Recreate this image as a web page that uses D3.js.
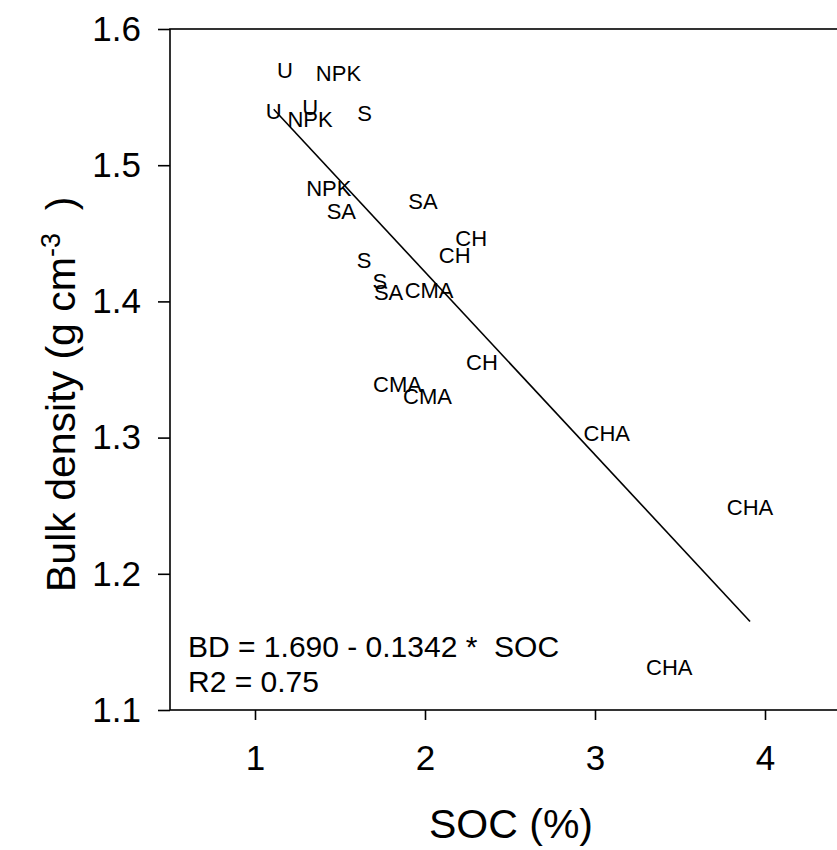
<!DOCTYPE html>
<html>
<head>
<meta charset="utf-8">
<script src="https://cdn.jsdelivr.net/npm/d3@7/dist/d3.min.js"></script>
<style>
  html, body { margin: 0; padding: 0; background: #fff; }
  svg { display: block; font-family: "Liberation Sans", Arial, Helvetica, sans-serif; }
</style>
</head>
<body>
<svg id="chart" width="837" height="850"></svg>
<script>
// Treatment label at each sample
const treatments = ["U", "NPK", "U", "U", "NPK", "S", "NPK", "SA", "SA", "CH", "CH",
                    "S", "S", "SA", "CMA", "CH", "CMA", "CMA", "CHA", "CHA", "CHA"];
// Soil organic carbon (%)
const soc = [1.176, 1.491, 1.11, 1.324, 1.324, 1.644, 1.434, 1.508, 1.988, 2.272, 2.175,
             1.641, 1.735, 1.786, 2.024, 2.335, 1.838, 2.015, 3.069, 3.912, 3.437];
// Bulk density (g cm-3)
const bd = [1.570, 1.568, 1.5394, 1.543, 1.534, 1.538, 1.483, 1.466, 1.474, 1.4466, 1.434,
            1.430, 1.4146, 1.407, 1.408, 1.3557, 1.339, 1.3305, 1.3032, 1.2493, 1.1318];
// Linear fit BD = a + b * SOC
const fitIntercept = 1.690;
const fitSlope = -0.1342;
const fitR2 = 0.75;
const xTicks = [1, 2, 3, 4];
const yTicks = [1.1, 1.2, 1.3, 1.4, 1.5, 1.6];

const svg = d3.select("#chart");
const x = d3.scaleLinear().domain([0.5, 4.5]).range([170, 850]);
const y = d3.scaleLinear().domain([1.1, 1.6]).range([710, 29]);

// Plot frame
svg.append("rect")
  .attr("x", x(0.5)).attr("y", y(1.6))
  .attr("width", x(4.5) - x(0.5)).attr("height", y(1.1) - y(1.6))
  .attr("fill", "none").attr("stroke", "#000").attr("stroke-width", 1.6);

// Axes
const xAxis = svg.append("g")
  .attr("transform", `translate(0,${y(1.1)})`)
  .call(d3.axisBottom(x).tickValues(xTicks).tickSize(10).tickPadding(25).tickFormat(d3.format("d")));
const yAxis = svg.append("g")
  .attr("transform", `translate(${x(0.5)},0)`)
  .call(d3.axisLeft(y).tickValues(yTicks).tickSize(12).tickPadding(17).tickFormat(d3.format(".1f")));

[xAxis, yAxis].forEach(g => {
  g.select(".domain").remove();
  g.selectAll(".tick line").attr("stroke", "#000").attr("stroke-width", 1.6);
  g.selectAll(".tick text").attr("fill", "#000")
    .style("font-family", '"Liberation Sans", Arial, sans-serif')
    .style("font-size", "35px");
});

// Regression line over the range of the data
const xMin = d3.min(soc), xMax = d3.max(soc);
svg.append("line")
  .attr("x1", x(xMin)).attr("y1", y(fitIntercept + fitSlope * xMin))
  .attr("x2", x(xMax)).attr("y2", y(fitIntercept + fitSlope * xMax))
  .attr("stroke", "#000").attr("stroke-width", 1.6);

// Sample labels drawn at each point
svg.append("g").selectAll("text")
  .data(treatments.map((t, i) => ({ t, s: soc[i], b: bd[i] })))
  .join("text")
  .attr("x", d => x(d.s))
  .attr("y", d => y(d.b))
  .attr("dy", "0.36em")
  .attr("text-anchor", "middle")
  .style("font-size", "22px")
  .text(d => d.t);

// Fit equation
const eq = svg.append("g").style("font-size", "30px");
eq.append("text").attr("x", 188).attr("y", 657)
  .attr("xml:space", "preserve")
  .text(`BD = ${fitIntercept.toFixed(3)} - ${Math.abs(fitSlope).toFixed(4)} *  SOC`);
eq.append("text").attr("x", 188).attr("y", 692)
  .text(`R2 = ${fitR2.toFixed(2)}`);

// Axis titles
svg.append("text")
  .attr("x", 511).attr("y", 838)
  .attr("text-anchor", "middle")
  .style("font-size", "41px")
  .text("SOC (%)");

const yt = svg.append("text")
  .attr("transform", "translate(75,592) rotate(-90)")
  .attr("text-anchor", "start")
  .attr("xml:space", "preserve")
  .style("font-size", "41px");
yt.append("tspan").text("Bulk density (g cm");
yt.append("tspan").attr("dy", "-0.55em").style("font-size", "27px").text("-3");
yt.append("tspan").attr("dy", "0.35em").text("  )");
</script>
</body>
</html>
